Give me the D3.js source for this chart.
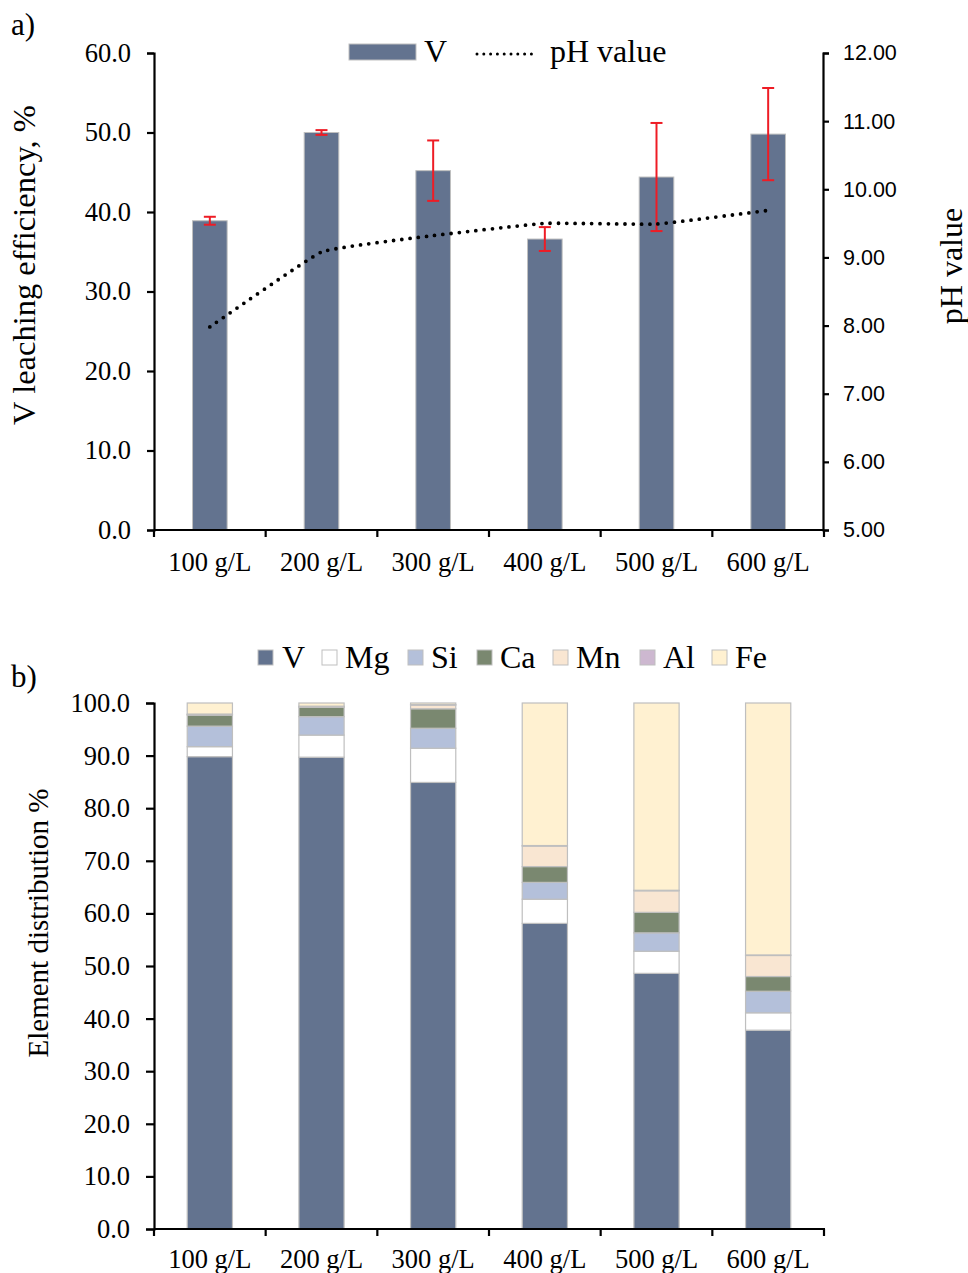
<!DOCTYPE html>
<html>
<head>
<meta charset="utf-8">
<script src="https://cdn.jsdelivr.net/npm/d3@7"></script>
<style>
  html, body { margin: 0; padding: 0; background: #fff; }
  svg { display: block; }
</style>
</head>
<body>
<svg id="chart" width="968" height="1273"></svg>
<script>
// ---------- DATA ----------
const categories = ["100 g/L", "200 g/L", "300 g/L", "400 g/L", "500 g/L", "600 g/L"];

// Panel a)
const vLeaching = [38.9, 50.0, 45.2, 36.6, 44.4, 49.8];
const vLeachingErr = [0.5, 0.3, 3.8, 1.5, 6.8, 5.8];
const phValue = [7.98, 9.08, 9.32, 9.50, 9.49, 9.69];
const leftTicksA = [0, 10, 20, 30, 40, 50, 60];
const rightTicksA = [5, 6, 7, 8, 9, 10, 11, 12];

// Panel b) element distribution, %
const elements = ["V", "Mg", "Si", "Ca", "Mn", "Al", "Fe"];
const distV  = [89.8, 89.7, 84.9, 58.1, 48.6, 37.8];
const distMg = [1.9, 4.2, 6.5, 4.6, 4.2, 3.3];
const distSi = [3.9, 3.5, 3.8, 3.2, 3.5, 4.1];
const distCa = [2.1, 1.8, 3.7, 3.0, 3.9, 2.8];
const distMn = [0.1, 0.1, 0.7, 3.9, 4.1, 4.0];
const distAl = [0.1, 0.1, 0.1, 0.1, 0.1, 0.1];
const distFe = [2.1, 0.6, 0.3, 27.1, 35.6, 47.9];
const ticksB = [0, 10, 20, 30, 40, 50, 60, 70, 80, 90, 100];

// ---------- STYLE ----------
const serif = "'Liberation Serif', 'Times New Roman', serif";
const sans = "'Liberation Sans', Arial, sans-serif";
const colors = {
  V: "#63738f", Mg: "#ffffff", Si: "#b4c0da", Ca: "#7a8870",
  Mn: "#f9e6d2", Al: "#cdb8d0", Fe: "#fff1d1"
};
const edge = "#bfbfbf";
const tickFont = 26.5;

const svg = d3.select("#chart");

const x = d3.scaleBand().domain(categories).range([154, 824]).padding(0);

function boundaryTicks(g, y0) {
  const bounds = categories.map(c => x(c)).concat([x.range()[1]]);
  g.selectAll("line.bt").data(bounds).join("line")
    .attr("class", "bt")
    .attr("x1", d => d).attr("x2", d => d)
    .attr("y1", y0).attr("y2", y0 + 7)
    .attr("stroke", "#000").attr("stroke-width", 2.2);
}

function xLabels(g, yBase) {
  g.selectAll("text.xl").data(categories).join("text")
    .attr("class", "xl")
    .attr("x", d => x(d) + x.bandwidth() / 2)
    .attr("y", yBase)
    .attr("text-anchor", "middle")
    .attr("font-family", serif)
    .attr("font-size", tickFont)
    .text(d => d);
}

// ================= PANEL A =================
const gA = svg.append("g");
const yA = d3.scaleLinear().domain([0, 60]).range([530, 53]);
const yPh = d3.scaleLinear().domain([5, 12]).range([530, 53]);
const barWA = x.bandwidth() * 0.31;

// bars
gA.selectAll("rect.vbar").data(categories).join("rect")
  .attr("class", "vbar")
  .attr("x", (d) => x(d) + x.bandwidth() / 2 - barWA / 2)
  .attr("width", barWA)
  .attr("y", (d, i) => yA(vLeaching[i]))
  .attr("height", (d, i) => yA(0) - yA(vLeaching[i]))
  .attr("fill", colors.V)
  .attr("stroke", edge).attr("stroke-width", 1);

// error bars
const errG = gA.append("g").attr("stroke", "#ee1c25").attr("stroke-width", 2);
categories.forEach((c, i) => {
  const cx = x(c) + x.bandwidth() / 2;
  const top = yA(vLeaching[i] + vLeachingErr[i]);
  const bot = yA(vLeaching[i] - vLeachingErr[i]);
  errG.append("line").attr("x1", cx).attr("x2", cx).attr("y1", top).attr("y2", bot);
  errG.append("line").attr("x1", cx - 6).attr("x2", cx + 6).attr("y1", top).attr("y2", top);
  errG.append("line").attr("x1", cx - 6).attr("x2", cx + 6).attr("y1", bot).attr("y2", bot);
});

// pH dotted line
const phLine = d3.line()
  .x((d, i) => x(categories[i]) + x.bandwidth() / 2)
  .y(d => yPh(d))
  .curve(d3.curveCardinal.tension(0.7));
gA.append("path")
  .attr("d", phLine(phValue))
  .attr("fill", "none")
  .attr("stroke", "#000")
  .attr("stroke-width", 3.8)
  .attr("stroke-linecap", "round")
  .attr("stroke-dasharray", "0 8.3");

// left axis
const axL = gA.append("g").attr("transform", "translate(154,0)")
  .call(d3.axisLeft(yA).tickValues(leftTicksA).tickFormat(d3.format(".1f")).tickSize(7).tickPadding(16));
axL.select(".domain").attr("stroke-width", 2.2);
axL.selectAll(".tick line").attr("stroke-width", 2.2);
axL.selectAll("text").attr("font-family", serif).attr("font-size", tickFont).attr("fill", "#000");

// right axis
const axR = gA.append("g").attr("transform", "translate(823,0)")
  .call(d3.axisRight(yPh).tickValues(rightTicksA).tickFormat(d3.format(".2f")).tickSize(6).tickPadding(14));
axR.select(".domain").attr("stroke-width", 2.2);
axR.selectAll(".tick line").attr("stroke-width", 2.2);
axR.selectAll("text").attr("font-family", sans).attr("font-size", 21.5).attr("fill", "#000");

// bottom axis
const axBA = gA.append("g").attr("transform", "translate(0,530)");
axBA.append("line").attr("x1", 154).attr("x2", 824).attr("y1", 0).attr("y2", 0)
  .attr("stroke", "#000").attr("stroke-width", 2.2);
boundaryTicks(axBA, 0);
xLabels(gA, 571);

// titles
gA.append("text").attr("x", 11).attr("y", 35)
  .attr("font-family", serif).attr("font-size", 31).text("a)");
gA.append("text")
  .attr("transform", "translate(35,265) rotate(-90)")
  .attr("text-anchor", "middle")
  .attr("font-family", serif).attr("font-size", 32.5)
  .text("V leaching efficiency, %");
gA.append("text")
  .attr("transform", "translate(962,266) rotate(-90)")
  .attr("text-anchor", "middle")
  .attr("font-family", serif).attr("font-size", 32)
  .text("pH value");

// legend a
gA.append("rect").attr("x", 349).attr("y", 44).attr("width", 67).attr("height", 16)
  .attr("fill", colors.V).attr("stroke", edge).attr("stroke-width", 1);
gA.append("text").attr("x", 424).attr("y", 62)
  .attr("font-family", serif).attr("font-size", 32).text("V");
gA.append("line").attr("x1", 477).attr("x2", 538).attr("y1", 54).attr("y2", 54)
  .attr("stroke", "#000").attr("stroke-width", 3).attr("stroke-linecap", "round")
  .attr("stroke-dasharray", "0 6.8");
gA.append("text").attr("x", 550).attr("y", 62)
  .attr("font-family", serif).attr("font-size", 32).text("pH value");

// ================= PANEL B =================
const gB = svg.append("g");
const yB = d3.scaleLinear().domain([0, 100]).range([1229, 703]);
const barWB = x.bandwidth() * 0.405;

const distSeries = { V: distV, Mg: distMg, Si: distSi, Ca: distCa, Mn: distMn, Al: distAl, Fe: distFe };
const table = categories.map((c, i) => {
  const row = { cat: c };
  elements.forEach(e => { row[e] = distSeries[e][i]; });
  return row;
});
const stacked = d3.stack().keys(elements)(table);

gB.selectAll("g.layer").data(stacked).join("g")
  .attr("class", "layer")
  .attr("fill", d => colors[d.key])
  .selectAll("rect").data(d => d).join("rect")
  .attr("x", d => x(d.data.cat) + x.bandwidth() / 2 - barWB / 2)
  .attr("width", barWB)
  .attr("y", d => yB(d[1]))
  .attr("height", d => Math.max(0, yB(d[0]) - yB(d[1])))
  .attr("stroke", edge).attr("stroke-width", 1.2);

// left axis
const axLB = gB.append("g").attr("transform", "translate(154,0)")
  .call(d3.axisLeft(yB).tickValues(ticksB).tickFormat(d3.format(".1f")).tickSize(8).tickPadding(16));
axLB.select(".domain").attr("stroke-width", 2.2);
axLB.selectAll(".tick line").attr("stroke-width", 2.2);
axLB.selectAll("text").attr("font-family", serif).attr("font-size", tickFont).attr("fill", "#000");

const axBB = gB.append("g").attr("transform", "translate(0,1229)");
axBB.append("line").attr("x1", 154).attr("x2", 825).attr("y1", 0).attr("y2", 0)
  .attr("stroke", "#000").attr("stroke-width", 2.2);
boundaryTicks(axBB, 0);
xLabels(gB, 1268);

gB.append("text").attr("x", 11).attr("y", 687)
  .attr("font-family", serif).attr("font-size", 31).text("b)");
gB.append("text")
  .attr("transform", "translate(48,923) rotate(-90)")
  .attr("text-anchor", "middle")
  .attr("font-family", serif).attr("font-size", 29)
  .text("Element distribution %");

// legend b
const legendX = { V: [258, 282], Mg: [322, 345], Si: [408, 431], Ca: [477, 500], Mn: [553, 576], Al: [640, 663], Fe: [712, 735] };
elements.forEach(e => {
  gB.append("rect").attr("x", legendX[e][0]).attr("y", 650).attr("width", 15).attr("height", 15)
    .attr("fill", colors[e]).attr("stroke", edge).attr("stroke-width", 1);
  gB.append("text").attr("x", legendX[e][1]).attr("y", 668)
    .attr("font-family", serif).attr("font-size", 32).text(e);
});
</script>
</body>
</html>
